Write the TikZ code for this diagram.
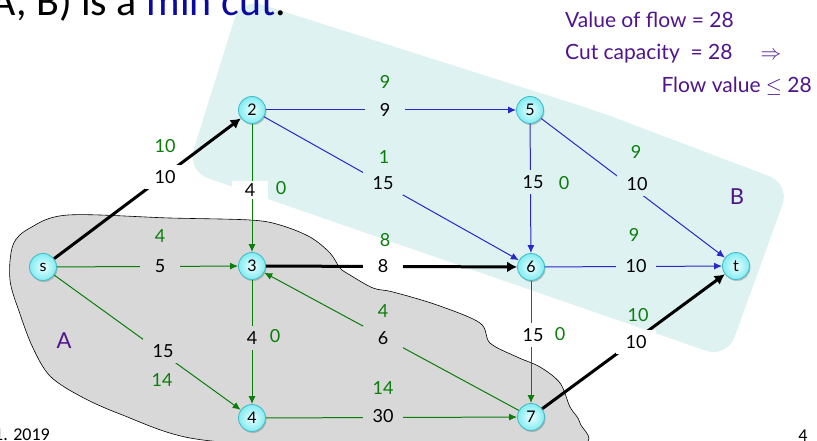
\documentclass[tikz,border=0pt]{standalone}
\usepackage{fontspec}
\setmainfont{Lato}
\newfontfamily\calibri{Carlito}
\usetikzlibrary{arrows.meta,shadows}
\definecolor{cyanbg}{RGB}{222,242,242}
\definecolor{graybg}{RGB}{216,216,216}
\definecolor{eblue}{RGB}{40,40,200}
\definecolor{egreen}{RGB}{10,125,10}
\definecolor{purp}{RGB}{80,20,140}
\definecolor{hblue}{RGB}{10,10,160}
\definecolor{nodeborder}{RGB}{70,190,200}
\definecolor{nin}{RGB}{235,255,255}
\definecolor{nout}{RGB}{130,236,242}
\begin{document}
\begin{tikzpicture}[x=1pt,y=-1pt,
  vtx/.style={circle, draw=nodeborder, line width=0.9pt, inner color=nin, outer color=nout,
    minimum size=27pt, inner sep=0pt, font=\fontsize{16}{16}\selectfont,
    drop shadow={shadow xshift=1pt, shadow yshift=-1.5pt, opacity=0.35, fill=black!60}},
  bedge/.style={draw=eblue, line width=1pt, -{Latex[length=8pt,width=7pt]}},
  gedge/.style={draw=egreen, line width=1pt, -{Latex[length=8pt,width=7pt]}},
  kedge/.style={draw=black, line width=3pt, -{Latex[length=10pt,width=11pt]}},
  capbox/.style={font=\fontsize{18}{18}\selectfont, minimum width=40pt, minimum height=24pt, inner sep=0pt},
  capw/.style={capbox, fill=white},
  capc/.style={capbox, fill=cyanbg},
  capg/.style={capbox, fill=graybg},
  flow/.style={font=\fontsize{18}{18}\selectfont, text=egreen, inner sep=0pt},
  regionlbl/.style={font=\fontsize{22}{22}\selectfont, text=purp, inner sep=0pt},
  side/.style={font=\fontsize{21}{21}\selectfont, text=purp, inner sep=0pt},
]
\useasboundingbox (0,0) rectangle (817,441);
\clip (0,0) rectangle (817,441);

% region B
\fill[cyanbg, rounded corners=22pt] (241,-2) -- (600,112) -- (790,184) -- (727,358) -- (187,171) -- cycle;

% region A
\filldraw[fill=graybg, draw=black, line width=0.6pt] plot[smooth cycle, tension=0.55] coordinates {
 (68,215) (170,218) (250,220) (280,225) (310,237) (330,253) (340,268) (350,275)
 (373,288) (393,292) (437,305) (480,323) (490,343) (517,357) (540,367) (560,383)
 (570,407) (580,423) (577,446) (420,450) (300,447) (190,438) (120,414) (80,396)
 (50,376) (33,348) (20,314) (10,280) (13,245) (30,228)};

% header and footer texts
\node[anchor=base east, font=\calibri\fontsize{42}{42}\selectfont, inner sep=0pt] (hdr) at (286,16) {(A, B) is a \textcolor{hblue}{min cut}.};
\node[anchor=base west, font=\calibri\fontsize{18}{18}\selectfont, inner sep=0pt] (date) at (-6,440) {1. 2019};
\node[anchor=base, font=\calibri\fontsize{18}{18}\selectfont, inner sep=0pt] (pg) at (803,441) {4};

\node[side, anchor=base west] (v1) at (565,28) {Value of flow = 28};
\node[side, anchor=base west] (v2) at (565,60) {Cut capacity \ = 28};
\node[side, anchor=base] (v3) at (771,60) {$\Rightarrow$};
\node[side, anchor=base east] (v4) at (812,93) {Flow value $\leq$ 28};

\node[regionlbl] (lA) at (64,341) {A};
\node[regionlbl] (lB) at (737,197) {B};

% vertices
\node[vtx] (s) at (43,267) {s};
\node[vtx] (n2) at (252,110) {2};
\node[vtx] (n3) at (252,266) {3};
\node[vtx] (n4) at (252,418) {4};
\node[vtx] (n5) at (530,110) {5};
\node[vtx] (n6) at (531,267) {6};
\node[vtx] (n7) at (531,417) {7};
\node[vtx] (t) at (736,266) {t};

% edges
\draw[kedge] (s) -- (n2);
\draw[gedge] (s) -- (n3);
\draw[gedge] (s) -- (n4);
\draw[bedge] (n2) -- (n5);
\draw[bedge] (n2) -- (n6);
\draw[gedge] (n2) -- (n3);
\draw[bedge] (n5) -- (n6);
\draw[bedge] (n5) -- (t);
\draw[kedge] (n3) -- (n6);
\draw[bedge] (n6) -- (t);
\draw[gedge] (n3) -- (n4);
\draw[gedge] (n7) -- (n3);
\draw[gedge] (n6) -- (n7);
\draw[gedge] (n4) -- (n7);
\draw[kedge] (n7) -- (t);

% capacity labels
\node[capw] (c-s2) at (165,177) {10};
\node[capg] (c-s3) at (160,266) {5};
\node[capg] (c-s4) at (163,351) {15};
\node[capc] (c-25) at (385,110) {9};
\node[capc] (c-26) at (383,183) {15};
\node[capw, minimum width=36pt, minimum height=18pt] (c-23) at (250,190) {4};
\node[capc] (c-56) at (533,182) {15};
\node[capc] (c-5t) at (637,184) {10};
\node[capw] (c-36) at (383,266) {8};
\node[capc] (c-6t) at (636,266) {10};
\node[capg] (c-34) at (252,338) {4};
\node[capg] (c-73) at (383,338) {6};
\node[capw] (c-67) at (533,335) {15};
\node[capg] (c-47) at (383,416) {30};
\node[capw] (c-7t) at (636,342) {10};

% flow labels
\node[flow] (f-s2) at (165,146) {10};
\node[flow] (f-s3) at (160,236) {4};
\node[flow] (f-s4) at (162,380) {14};
\node[flow] (f-25) at (385,82) {9};
\node[flow] (f-26) at (384,157) {1};
\node[flow] (f-23) at (281,188) {0};
\node[flow] (f-56) at (564,183) {0};
\node[flow] (f-5t) at (636,152) {9};
\node[flow] (f-36) at (385,240) {8};
\node[flow] (f-6t) at (634,235) {9};
\node[flow] (f-34) at (275,336) {0};
\node[flow] (f-73) at (383,311) {4};
\node[flow] (f-67) at (560,334) {0};
\node[flow] (f-47) at (383,388) {14};
\node[flow] (f-7t) at (638,315) {10};
\end{tikzpicture}
\end{document}
